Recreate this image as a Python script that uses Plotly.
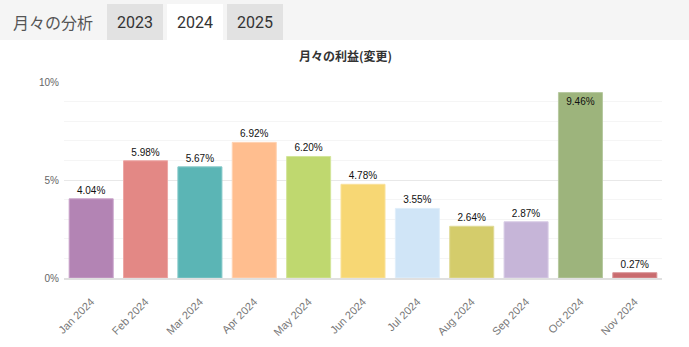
import plotly.graph_objects as go

months = ["Jan 2024", "Feb 2024", "Mar 2024", "Apr 2024", "May 2024", "Jun 2024",
          "Jul 2024", "Aug 2024", "Sep 2024", "Oct 2024", "Nov 2024"]
values = [4.04, 5.98, 5.67, 6.92, 6.20, 4.78, 3.55, 2.64, 2.87, 9.46, 0.27]
colors = ["#b384b4", "#e38885", "#5bb5b5", "#ffbe8f", "#bfd86f", "#f7d774",
          "#d0e5f7", "#d4cc6b", "#c6b5d8", "#9db47c", "#c96b6e"]
borders = ["#c9a3ca", "#eda7a5", "#86c9c9", "#ffd3b3", "#d3e59a", "#f9e29c",
           "#e0eefa", "#e0da97", "#d9cde6", "#b7c9a0", "#d99597"]
tabs = ["2023", "2024", "2025"]
yticks = [0, 5, 10]
ytick_text = ["0%", "5%", "10%"]

W, H = 689, 347
L, R, T, B = 64, 27, 82, 69
pw, ph = W - L - R, H - T - B

def px(x):
    return (x - L) / pw

def py(y):
    return (H - B - y) / ph

fig = go.Figure(go.Bar(
    x=months, y=values,
    marker=dict(color=colors, line=dict(color=borders, width=1)),
    text=[f"{v:.2f}%" for v in values],
    textposition=["outside"] * 9 + ["inside", "outside"],
    insidetextanchor="end",
    textfont=dict(size=10, color="#111", family="Liberation Sans"),
    cliponaxis=False,
    hoverinfo="skip",
))

shapes = [dict(type="rect", xref="paper", yref="paper", x0=px(0), x1=px(W), y0=py(40), y1=py(0),
               fillcolor="#f5f5f5", line=dict(width=0), layer="below")]
tab_x = [(107, 163), (167, 223), (227, 283)]
tab_fill = ["#e2e2e2", "#ffffff", "#e2e2e2"]
annotations = [dict(text="月々の分析", xref="paper", yref="paper", x=px(53), y=py(22),
                    xanchor="center", yanchor="middle",
                    showarrow=False, font=dict(size=16, color="#555", family="Noto Sans CJK JP"))]
for (a, b), f, t in zip(tab_x, tab_fill, tabs):
    shapes.append(dict(type="rect", xref="paper", yref="paper", x0=px(a), x1=px(b), y0=py(40), y1=py(4),
                       fillcolor=f, line=dict(width=0), layer="below"))
    annotations.append(dict(text=t, xref="paper", yref="paper", x=px((a + b) / 2), y=py(22),
                            xanchor="center", yanchor="middle",
                            showarrow=False, font=dict(size=16, color="#333", family="Roboto")))
annotations.append(dict(text="<b>月々の利益(変更)</b>", xref="paper", yref="paper", x=px(345), y=py(56),
                        xanchor="center", yanchor="middle",
                        showarrow=False, font=dict(size=12, color="#333", family="Noto Sans CJK JP")))

fig.update_layout(
    width=W, height=H,
    margin=dict(l=L, r=R, t=T, b=B),
    paper_bgcolor="white", plot_bgcolor="white",
    bargap=0.19,
    showlegend=False,
    shapes=shapes, annotations=annotations,
    font=dict(family="Liberation Sans"),
    xaxis=dict(tickangle=-45, tickfont=dict(size=11, color="#777"), showline=True,
               linecolor="#e0e0e0", linewidth=2, ticks="", showgrid=False,
               ticklabelstandoff=11, automargin=False),
    yaxis=dict(range=[0, 10], tickvals=yticks, ticktext=ytick_text,
               tickfont=dict(size=10, color="#666"), gridcolor="#e8e8e8", zeroline=False,
               minor=dict(dtick=1, showgrid=True, gridcolor="#f5f5f5"), ticks="",
               ticklabelstandoff=4, automargin=False),
)

fig.write_html("out.html")
